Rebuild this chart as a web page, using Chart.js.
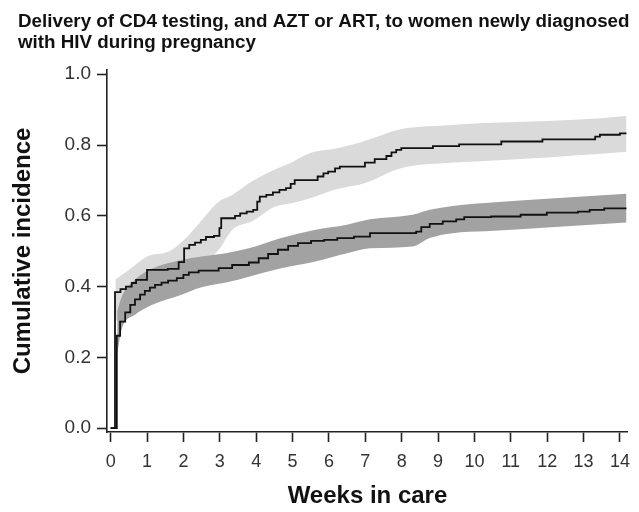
<!DOCTYPE html>
<html>
<head>
<meta charset="utf-8">
<script src="https://cdn.jsdelivr.net/npm/chart.js@4.4.1/dist/chart.umd.min.js"></script>
<style>
  html, body { margin: 0; padding: 0; background: #fff; }
  #wrap { width: 639px; height: 512px; position: relative; }
</style>
</head>
<body>
<div id="wrap"><canvas id="chart"></canvas></div>
<script>
// title and axis text
const titleLines = [
  'Delivery of CD4 testing, and AZT or ART, to women newly diagnosed',
  'with HIV during pregnancy'
];
const xTitle = 'Weeks in care';
const yTitle = 'Cumulative incidence';
const xTicks = [0, 1, 2, 3, 4, 5, 6, 7, 8, 9, 10, 11, 12, 13, 14];
const yTicks = [0, 0.2, 0.4, 0.6, 0.8, 1.0];

// upper step curve (light band)
const upperWeeks = [0, 0.12, 0.27, 0.42, 0.58, 0.7, 1.0, 1.57, 1.87, 2.02, 2.16, 2.32, 2.48, 2.62, 2.84,
  2.99, 3.04, 3.42, 3.56, 3.74, 3.92, 4.03, 4.1, 4.28, 4.46, 4.64, 4.82, 4.95, 5.06, 5.69, 5.85,
  5.98, 6.17, 6.3, 6.99, 7.26, 7.58, 7.72, 7.85, 7.99, 8.86, 9.58, 10.74, 11.87, 13.32, 13.45, 14.0, 14.18];
const upperValues = [0, 0.384, 0.393, 0.40, 0.41, 0.419, 0.447, 0.45, 0.469, 0.508, 0.518, 0.524, 0.532, 0.54, 0.543,
  0.565, 0.593, 0.60, 0.607, 0.612, 0.617, 0.64, 0.654, 0.659, 0.666, 0.673, 0.678, 0.69, 0.701, 0.711, 0.72,
  0.725, 0.734, 0.739, 0.75, 0.76, 0.769, 0.779, 0.786, 0.791, 0.797, 0.802, 0.81, 0.816, 0.824, 0.829, 0.833, 0.833];

// lower step curve (dark band)
const lowerWeeks = [0, 0.17, 0.26, 0.4, 0.54, 0.67, 0.81, 0.94, 1.08, 1.22, 1.4, 1.58, 1.82, 2.0, 2.15, 2.42,
  2.97, 3.34, 3.8, 4.07, 4.33, 4.6, 4.88, 5.15, 5.51, 5.87, 6.23, 6.69, 7.13, 8.4, 8.54, 8.77, 9.13,
  9.5, 9.72, 10.46, 11.27, 11.99, 12.85, 13.17, 13.57, 14.18];
const lowerValues = [0, 0.261, 0.301, 0.327, 0.348, 0.364, 0.377, 0.388, 0.397, 0.405, 0.411, 0.417, 0.424, 0.433, 0.44, 0.445,
  0.452, 0.461, 0.468, 0.48, 0.492, 0.504, 0.515, 0.523, 0.529, 0.532, 0.537, 0.541, 0.551, 0.555, 0.568, 0.577, 0.584,
  0.59, 0.596, 0.598, 0.603, 0.609, 0.612, 0.617, 0.621, 0.621];

// confidence bands
const lightBandWeeks = [0.13, 0.5, 1.0, 1.6, 2.0, 2.4, 2.97, 3.34, 3.9, 4.5, 5.0, 5.5, 6.2, 7.0, 8.0, 9.2, 10.3, 12.0, 13.5, 14.18];
const lightBandHigh = [0.42, 0.447, 0.485, 0.499, 0.53, 0.575, 0.64, 0.659, 0.698, 0.73, 0.752, 0.778, 0.79, 0.812, 0.845, 0.855, 0.862, 0.868, 0.876, 0.882];
const lightBandLow = [0.3, 0.35, 0.385, 0.412, 0.43, 0.455, 0.504, 0.56, 0.585, 0.625, 0.636, 0.65, 0.675, 0.693, 0.735, 0.749, 0.755, 0.765, 0.775, 0.781];

const darkBandWeeks = [0.18, 0.3, 0.67, 1.13, 1.95, 2.5, 3.2, 3.8, 4.69, 5.6, 6.5, 7.13, 8.3, 8.77, 9.4, 10.3, 12.0, 14.18];
const darkBandHigh = [0.33, 0.37, 0.419, 0.45, 0.475, 0.485, 0.495, 0.508, 0.537, 0.56, 0.575, 0.59, 0.603, 0.617, 0.628, 0.636, 0.648, 0.662];
const darkBandLow = [0.21, 0.278, 0.32, 0.348, 0.377, 0.398, 0.412, 0.428, 0.452, 0.47, 0.494, 0.508, 0.513, 0.537, 0.551, 0.556, 0.567, 0.581];

const fontFamily = '"Liberation Sans", Arial, Helvetica, sans-serif';
const axisColor = '#222';
const lightGrey = '#dadada';
const darkGrey = '#a2a2a2';

function toPoints(xs, ys) {
  return xs.map((x, i) => ({ x: x, y: ys[i] }));
}

function stepCurve(label, xs, ys) {
  return {
    label: label,
    data: toPoints(xs, ys),
    stepped: true,
    borderColor: '#111',
    borderWidth: 1.8,
    pointRadius: 0,
    fill: false,
    order: 0
  };
}

function bandEdge(label, xs, ys, color, fill, order) {
  return {
    label: label,
    data: toPoints(xs, ys),
    borderWidth: 0,
    borderColor: 'rgba(0,0,0,0)',
    backgroundColor: color,
    pointRadius: 0,
    cubicInterpolationMode: 'monotone',
    fill: fill,
    order: order
  };
}

// title drawn at the far left like the original figure
const leftTitle = {
  id: 'leftTitle',
  afterDraw(chart) {
    const ctx = chart.ctx;
    ctx.save();
    ctx.font = 'bold 18.8px ' + fontFamily;
    ctx.fillStyle = '#111';
    ctx.textBaseline = 'alphabetic';
    titleLines.forEach((line, i) => ctx.fillText(line, 18, 27 + i * 21));
    ctx.restore();
  }
};

new Chart(document.getElementById('chart'), {
  type: 'line',
  data: {
    datasets: [
      stepCurve('CD4 testing', upperWeeks, upperValues),
      stepCurve('AZT or ART', lowerWeeks, lowerValues),
      bandEdge('dark low', darkBandWeeks, darkBandLow, darkGrey, false, 1),
      bandEdge('dark high', darkBandWeeks, darkBandHigh, darkGrey, '-1', 1),
      bandEdge('light low', lightBandWeeks, lightBandLow, lightGrey, false, 2),
      bandEdge('light high', lightBandWeeks, lightBandHigh, lightGrey, '-1', 2)
    ]
  },
  options: {
    responsive: true,
    maintainAspectRatio: false,
    animation: false,
    layout: { padding: { top: 70, right: 5, left: 0, bottom: 0 } },
    plugins: {
      legend: { display: false },
      tooltip: { enabled: false },
      title: { display: false }
    },
    scales: {
      x: {
        type: 'linear',
        min: -0.1,
        max: 14.22,
        afterFit: s => { s.height = 80; },
        afterBuildTicks: s => { s.ticks = xTicks.map(v => ({ value: v })); },
        border: { display: true, color: axisColor, width: 1.6 },
        grid: { display: true, drawOnChartArea: false, drawTicks: true, tickLength: 10, tickColor: axisColor, tickWidth: 1.6 },
        ticks: { color: '#333', padding: 9, font: { family: fontFamily, size: 18 }, maxRotation: 0, autoSkip: false },
        title: { display: true, text: xTitle, color: '#111', font: { family: fontFamily, size: 24, weight: 'bold' }, padding: { top: 0, bottom: 1 } }
      },
      y: {
        type: 'linear',
        min: -0.011,
        max: 1.012,
        afterFit: s => { s.width = 107; },
        afterBuildTicks: s => { s.ticks = yTicks.map(v => ({ value: v })); },
        border: { display: true, color: axisColor, width: 1.6 },
        grid: { display: true, drawOnChartArea: false, drawTicks: true, tickLength: 10, tickColor: axisColor, tickWidth: 1.6 },
        ticks: { color: '#333', padding: 6, font: { family: fontFamily, size: 19 }, callback: v => v.toFixed(1) },
        title: { display: true, text: yTitle, color: '#111', font: { family: fontFamily, size: 24, weight: 'bold' }, padding: { top: 9, bottom: 0 } }
      }
    }
  },
  plugins: [leftTitle]
});
</script>
</body>
</html>
